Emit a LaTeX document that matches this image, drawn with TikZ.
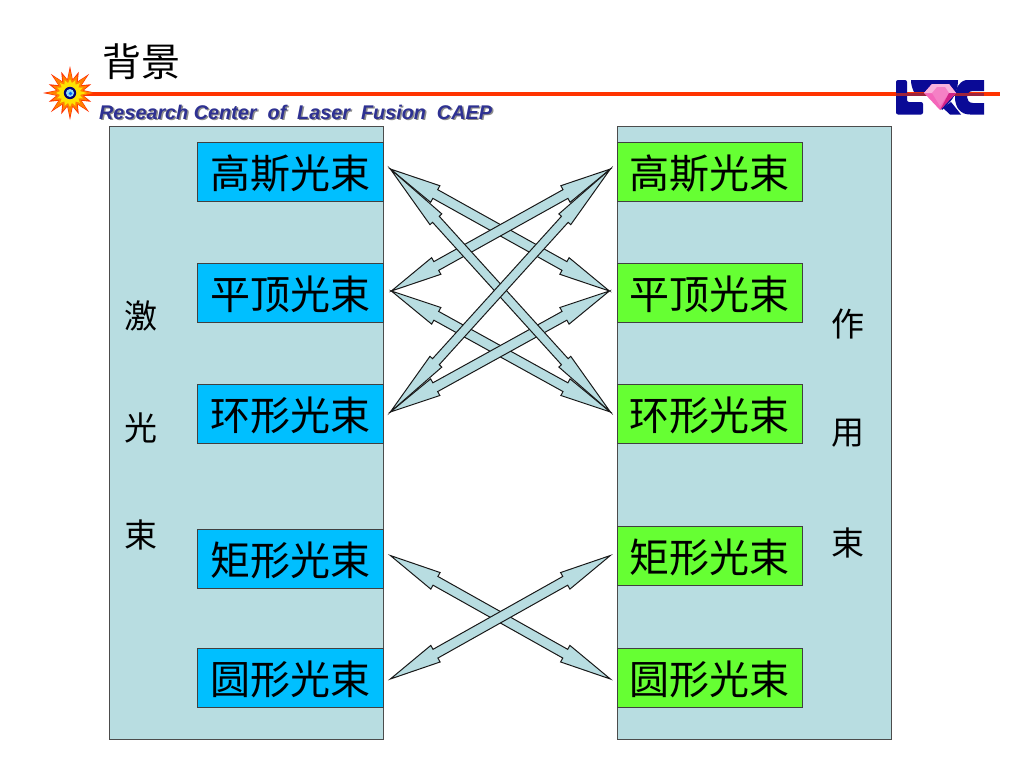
\documentclass[tikz,border=0pt]{standalone}
\usepackage{fontspec}
\usetikzlibrary{calc}
\newfontfamily\cjk{Noto Sans CJK SC}
\newfontfamily\lat{Liberation Sans}
\definecolor{panel}{HTML}{B8DDE1}
\definecolor{bluebox}{HTML}{00BFFF}
\definecolor{greenbox}{HTML}{66FF33}
\definecolor{rulered}{HTML}{FF3300}
\definecolor{navy}{HTML}{2E3192}
\definecolor{logonavy}{HTML}{0A0A96}
\tikzset{
  panelbox/.style={draw=black!70,line width=.8pt,fill=panel},
  beamtext/.style={draw=black!75,line width=.7pt,inner sep=0pt,minimum height=59pt,text height=36pt,text depth=2.6pt,font=\cjk\fontsize{40}{40}\selectfont},
  beamleft/.style={beamtext,fill=bluebox,minimum width=186pt},
  beamright/.style={beamtext,fill=greenbox,minimum width=185pt},
  sidelabel/.style={inner sep=0pt,font=\cjk\fontsize{33}{33}\selectfont},
  arrowbody/.style={draw=black!90,line width=1pt,fill=panel,line join=miter},
}
\newcommand{\blockarrow}[5]{%
  \path let \p1=($(#2)-(#1)$),\n1={atan2(\y1,\x1)},\n2={veclen(\x1,\y1)} in
    \pgfextra{\xdef\arang{\n1}\xdef\arlen{\n2}};
  \begin{scope}[shift={(#1)},rotate=\arang]
    \pgfmathsetmacro{\arh}{#3*\arlen}
    \pgfmathsetmacro{\arb}{\arlen-\arh}
    \draw[arrowbody] (0,0) -- (\arh,#4) -- (\arh,#5) -- (\arb,#5) -- (\arb,#4) -- (\arlen,0)
      -- (\arb,-#4) -- (\arb,-#5) -- (\arh,-#5) -- (\arh,-#4) -- cycle;
  \end{scope}}
\begin{document}
\begin{tikzpicture}[x=1pt,y=-1pt]
\useasboundingbox (0,0) rectangle (1024,768);
\fill[white] (0,0) rectangle (1024,768);
% header
\draw[rulered,line width=4pt] (70,94) -- (1000,94);
\begin{scope}[shift={(70,93)}]
  \fill[rulered] (0:27)
    \foreach \i in {1,...,31}{ -- ({\i*11.25}:{mod(\i,2)==1 ? 14 : (mod(\i,4)==0 ? 27 : 23)})} -- cycle;
  \fill[orange] (0:23)
    \foreach \i in {1,...,31}{ -- ({\i*11.25}:{mod(\i,2)==1 ? 13 : (mod(\i,4)==0 ? 23 : 19)})} -- cycle;
  \fill[yellow!85!orange] (0:17)
    \foreach \i in {1,...,31}{ -- ({\i*11.25}:{mod(\i,2)==1 ? 10 : 14})} -- cycle;
  \fill[blue!45!black] (0,0) circle (6.2);
  \fill[cyan!45!white] (0,0) circle (4);
  \fill[blue!60!cyan] (.5,.5) circle (1.8);
\end{scope}
\node[anchor=west,inner sep=0pt,font=\cjk\fontsize{39}{39}\selectfont] (title) at (102,62) {背景};
\node[anchor=west,inner sep=0pt,text=black!45,font=\lat\bfseries\itshape\fontsize{19.8}{19.8}\selectfont] (subshadow) at (100.5,113.5) {Research Center\ \ of\ \ Laser\ \ Fusion\ \ CAEP};
\node[anchor=west,inner sep=0pt,text=navy,font=\lat\bfseries\itshape\fontsize{19.8}{19.8}\selectfont] (sub) at (99,112) {Research Center\ \ of\ \ Laser\ \ Fusion\ \ CAEP};
% logo
\begin{scope}[logonavy]
  \fill[rounded corners=2pt] (896,80) -- (907,80) -- (907,102) -- (923,102) -- (923,114.5) -- (896,114.5) -- cycle;
  \fill (911,80) -- (958,80) .. controls (958,90) and (954,98) .. (948,104) -- (942,110) -- (932,92) -- (924,92) -- (914,92) .. controls (912,88) and (911,84) .. (911,80) -- cycle;
  \fill (943,108) -- (951,102) -- (961,114.5) -- (950,114.5) -- cycle;
  \fill (984,80) -- (966,80) .. controls (958,82) and (955,90) .. (955,97) .. controls (955,107) and (960,114.5) .. (970,114.5) -- (984,114.5) -- (984,103) -- (973,103) .. controls (969,103) and (967,100) .. (967,97) .. controls (967,94) and (969,91) .. (973,91) -- (984,91) -- cycle;
\end{scope}
\fill[rulered!60!logonavy] (896,92.5) rectangle (984,95.5);
\fill[magenta!60!white] (924,93) -- (932,84) -- (949,84) -- (956,93) -- (940,110) -- cycle;
\fill[magenta!30!white] (924,93) -- (932,84) -- (949,84) -- (956,93) -- cycle;
\fill[magenta!50!white] (932,93) -- (937,87) -- (945,87) -- (949,93) -- (940,106) -- cycle;
\fill[magenta!70!violet] (940,110) -- (949,93) -- (956,93) -- cycle;
% panels
\node[panelbox,inner sep=0pt,minimum width=274pt,minimum height=613pt] (pl) at (246,432.5) {};
\node[panelbox,inner sep=0pt,minimum width=274pt,minimum height=613pt] (pr) at (754,432.5) {};
% beams
\node[beamleft] (l1) at (290,171.5) {高斯光束};
\node[beamleft] (l2) at (290,292.5) {平顶光束};
\node[beamleft] (l3) at (290,413.5) {环形光束};
\node[beamleft] (l4) at (290,558.5) {矩形光束};
\node[beamleft] (l5) at (290,677.5) {圆形光束};
\node[beamright] (r1) at (709.5,171.5) {高斯光束};
\node[beamright] (r2) at (709.5,292.5) {平顶光束};
\node[beamright] (r3) at (709.5,413.5) {环形光束};
\node[beamright] (r4) at (709.5,555.5) {矩形光束};
\node[beamright] (r5) at (709.5,677.5) {圆形光束};
% side labels
\node[sidelabel] (s1) at (141,316) {激};
\node[sidelabel] (s2) at (141,428) {光};
\node[sidelabel] (s3) at (141,535) {束};
\node[sidelabel] (t1) at (848,324) {作};
\node[sidelabel] (t2) at (848,433) {用};
\node[sidelabel] (t3) at (848,543) {束};
% arrow end points
\coordinate (a1) at ($(l1.east)+(7,-2.5)$);
\coordinate (a2) at ($(l2.east)+(8,-1.5)$);
\coordinate (a3) at ($(l3.east)+(7,-1.5)$);
\coordinate (a4) at ($(l4.east)+(7,-3)$);
\coordinate (a5) at ($(l5.east)+(7,1.5)$);
\coordinate (b1) at ($(r1.east)+(-192,-2.5)$);
\coordinate (b2) at ($(r2.east)+(-193,-1.5)$);
\coordinate (b3) at ($(r3.east)+(-192,-1.5)$);
\coordinate (b4) at ($(r4.east)+(-192,0)$);
\coordinate (b5) at ($(r5.east)+(-192,1.5)$);
% arrows
\blockarrow{a1}{b2}{.205}{9.5}{5}
\blockarrow{a2}{b3}{.205}{9.5}{5}
\blockarrow{a2}{b1}{.205}{9.5}{5}
\blockarrow{a3}{b2}{.205}{9.5}{5}
\blockarrow{a1}{b3}{.207}{8}{4.5}
\blockarrow{a3}{b1}{.207}{8}{4.5}
\blockarrow{a4}{b5}{.205}{9.5}{5}
\blockarrow{a5}{b4}{.205}{9.5}{5}
\end{tikzpicture}
\end{document}
